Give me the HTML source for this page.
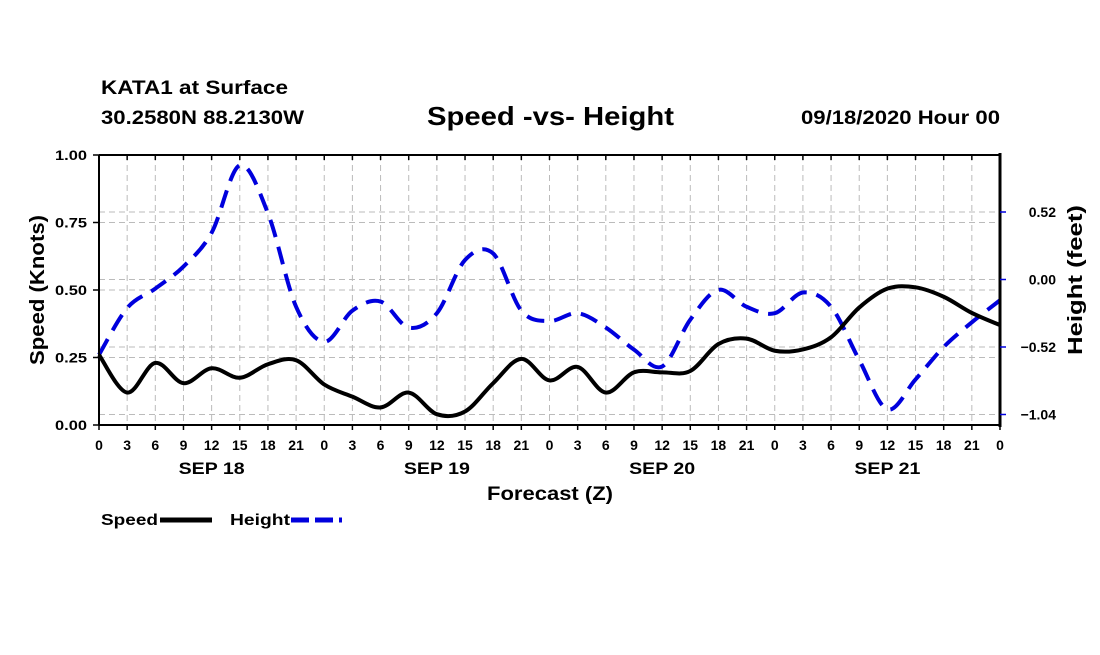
<!DOCTYPE html>
<html><head><meta charset="utf-8"><style>
body{margin:0;background:#fff;}
svg text{font-family:"Liberation Sans",Arial,sans-serif;font-weight:bold;fill:#000;}
</style></head><body>
<svg id="chart" width="1100" height="650" viewBox="0 0 1100 650" xmlns="http://www.w3.org/2000/svg">
<text x="101" y="94" font-size="19" textLength="187" lengthAdjust="spacingAndGlyphs">KATA1 at Surface</text>
<text x="101" y="124" font-size="19" textLength="203" lengthAdjust="spacingAndGlyphs">30.2580N 88.2130W</text>
<text x="427" y="125" font-size="26" textLength="247" lengthAdjust="spacingAndGlyphs">Speed -vs- Height</text>
<text x="801" y="124" font-size="19" textLength="199" lengthAdjust="spacingAndGlyphs">09/18/2020 Hour 00</text>
<g id="grid"></g>
<g id="series"></g>
<g id="axes"></g>
<text transform="translate(44,290) rotate(-90)" font-size="20" text-anchor="middle" textLength="150" lengthAdjust="spacingAndGlyphs">Speed (Knots)</text>
<text transform="translate(1082,280) rotate(-90)" font-size="20" text-anchor="middle" textLength="150" lengthAdjust="spacingAndGlyphs">Height (feet)</text>
<text x="487" y="500" font-size="19" textLength="126" lengthAdjust="spacingAndGlyphs">Forecast (Z)</text>
<g>
<text x="101" y="525" font-size="16" textLength="57" lengthAdjust="spacingAndGlyphs">Speed</text>
<line x1="160" y1="520" x2="212" y2="520" stroke="#000" stroke-width="5"/>
<text x="230" y="525" font-size="16" textLength="60" lengthAdjust="spacingAndGlyphs">Height</text>
<line x1="291" y1="520" x2="342" y2="520" stroke="#0000dd" stroke-width="5" stroke-dasharray="18,6"/>
</g>
</svg>
<script>
const hours=[0,3,6,9,12,15,18,21,24,27,30,33,36,39,42,45,48,51,54,57,60,63,66,69,72,75,78,81,84,87,90,93,96];
const speedVals=[0.26,0.12,0.23,0.155,0.21,0.175,0.225,0.24,0.15,0.105,0.065,0.12,0.04,0.05,0.155,0.245,0.165,0.215,0.12,0.195,0.195,0.2,0.3,0.32,0.275,0.28,0.325,0.435,0.505,0.51,0.475,0.415,0.37];
const heightVals=[-0.58,-0.22,-0.07,0.10,0.36,0.88,0.51,-0.21,-0.48,-0.24,-0.17,-0.37,-0.26,0.15,0.20,-0.24,-0.32,-0.26,-0.37,-0.54,-0.67,-0.31,-0.08,-0.21,-0.26,-0.10,-0.21,-0.62,-1.00,-0.77,-0.52,-0.33,-0.16];
const speedTicks=[0,0.25,0.5,0.75,1.0];
const speedTickLabels=["0.00","0.25","0.50","0.75","1.00"];
const heightTicks=[0.52,0,-0.52,-1.04];
const heightTickLabels=["0.52","0.00","\u22120.52","\u22121.04"];
const dayLabels=["SEP 18","SEP 19","SEP 20","SEP 21"];
const dayHours=[12,36,60,84];

const X0=99,X1=1000,Y0=425,Y1=155;
function xs(h){return X0+(h/96)*(X1-X0);}
function ys(v){return Y0-v*(Y0-Y1);}
function yh(v){return 279.5-v*129.8;}
const NS="http://www.w3.org/2000/svg";
function mk(tag,parent,attrs){const e=document.createElementNS(NS,tag);for(const k in attrs)e.setAttribute(k,attrs[k]);parent.appendChild(e);return e;}
const grid=document.getElementById('grid'),axes=document.getElementById('axes'),series=document.getElementById('series');
const gstyle={stroke:"#bbb","stroke-width":1,"stroke-dasharray":"6,4"};
hours.forEach(h=>{if(h>0&&h<96){const l=mk('line',grid,Object.assign({x1:xs(h),x2:xs(h),y1:Y1,y2:Y0},gstyle));

}});
speedTicks.forEach(v=>{if(v>0&&v<1){const l=mk('line',grid,Object.assign({x1:X0,x2:X1,y1:ys(v),y2:ys(v)},gstyle));

}});
heightTicks.forEach(v=>{const l=mk('line',grid,Object.assign({x1:X0,x2:X1,y1:yh(v),y2:yh(v)},gstyle));

});
let a=mk('line',axes,{x1:X0,x2:X0,y1:Y1,y2:Y0,stroke:"#000","stroke-width":2});


a=mk('line',axes,{x1:X1,x2:X1,y1:Y1-2,y2:Y0+2,stroke:"#000","stroke-width":3});


a=mk('line',axes,{x1:X0,x2:X1,y1:Y1,y2:Y1,stroke:"#000","stroke-width":2});


a=mk('line',axes,{x1:X0,x2:X1,y1:Y0,y2:Y0,stroke:"#000","stroke-width":2});


hours.forEach(h=>{
  const t=mk('line',axes,{x1:xs(h),x2:xs(h),y1:Y0,y2:Y0+5,stroke:"#000","stroke-width":1.5});
  
  
  const t2=mk('line',axes,{x1:xs(h),x2:xs(h),y1:Y1,y2:Y1+5,stroke:"#000","stroke-width":1.5});
  
  
  const lb=mk('text',axes,{x:xs(h),y:450,"font-size":14,"text-anchor":"middle"});
  lb.textContent=String(h%24);
  
  
});
dayLabels.forEach((d,i)=>{const t=mk('text',axes,{x:xs(dayHours[i])-33,y:474,"font-size":17,textLength:66,lengthAdjust:"spacingAndGlyphs"});t.textContent=d;

});
speedTicks.forEach((v,i)=>{
  const t=mk('line',axes,{x1:X0-6,x2:X0,y1:ys(v),y2:ys(v),stroke:"#000","stroke-width":1.5});
  
  
  const lb=mk('text',axes,{x:X0-12,y:ys(v)+5,"font-size":14,"text-anchor":"end",textLength:32,lengthAdjust:"spacingAndGlyphs"});lb.textContent=speedTickLabels[i];
  
  
});
heightTicks.forEach((v,i)=>{
  const t=mk('line',axes,{x1:X1,x2:X1+6,y1:yh(v),y2:yh(v),stroke:"#0000dd","stroke-width":1.5});
  
  
  const lb=mk('text',axes,{x:1056,y:yh(v)+5,"font-size":14,"text-anchor":"end"});lb.textContent=heightTickLabels[i];
  
  
});
function smooth(pts){let d="M"+pts[0][0]+","+pts[0][1];
 for(let i=0;i<pts.length-1;i++){const p0=pts[i-1]||pts[i],p1=pts[i],p2=pts[i+1],p3=pts[i+2]||p2;
  d+=" C"+(p1[0]+(p2[0]-p0[0])/6)+","+(p1[1]+(p2[1]-p0[1])/6)+" "+(p2[0]-(p3[0]-p1[0])/6)+","+(p2[1]-(p3[1]-p1[1])/6)+" "+p2[0]+","+p2[1];}
 return d;}
let p=mk('path',series,{d:smooth(hours.map((h,i)=>[xs(h),yh(heightVals[i])])),fill:"none",stroke:"#0000dd","stroke-width":4,"stroke-dasharray":"18,10"});


p=mk('path',series,{d:smooth(hours.map((h,i)=>[xs(h),ys(speedVals[i])])),fill:"none",stroke:"#000","stroke-width":4});


</script>
</body></html>
